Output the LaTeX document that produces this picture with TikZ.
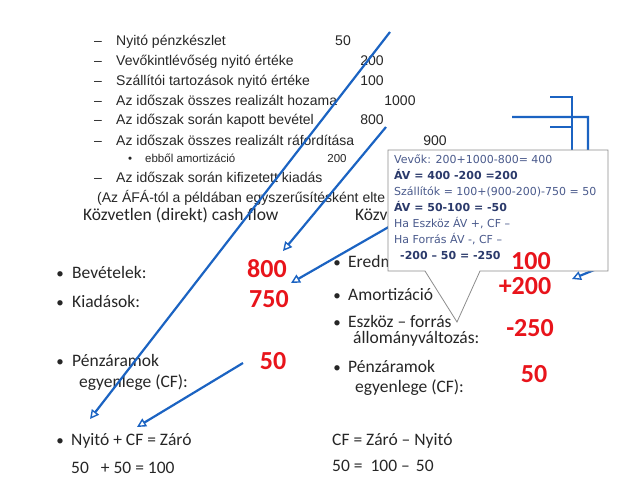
\documentclass[tikz,border=0pt]{standalone}
\usepackage{fontspec}
\setmainfont{Carlito}
\newfontfamily\arialf{Liberation Sans}
\newfontfamily\callf{DejaVu Sans}
\usetikzlibrary{arrows.meta}
\definecolor{ink}{HTML}{262626}
\definecolor{redn}{HTML}{E8141B}
\definecolor{blueln}{HTML}{1B63C2}
\definecolor{calln}{HTML}{4A5A8C}
\definecolor{callb}{HTML}{2B3A6B}
\definecolor{boxgray}{HTML}{8C8C8C}
\begin{document}
\begin{tikzpicture}[x=1pt,y=-1pt,
  toptxt/.style={anchor=base west, font=\arialf\fontsize{14}{16}\selectfont, text=ink, inner sep=0},
  topnum/.style={anchor=base, font=\arialf\fontsize{14}{16}\selectfont, text=ink, inner sep=0},
  smalltxt/.style={anchor=base west, font=\arialf\fontsize{11.5}{13}\selectfont, text=ink, inner sep=0},
  smallnum/.style={anchor=base, font=\arialf\fontsize{11.5}{13}\selectfont, text=ink, inner sep=0},
  headtxt/.style={anchor=base west, font=\fontsize{17.5}{20}\selectfont, text=ink, inner sep=0},
  bodytxt/.style={anchor=base west, font=\fontsize{17.5}{20}\selectfont, text=ink, inner sep=0},
  bodybul/.style={anchor=base, font=\fontsize{15}{18}\selectfont, text=ink, inner sep=0},
  rednum/.style={anchor=base, font=\bfseries\fontsize{26}{30}\selectfont, text=redn, inner sep=0},
  calltxt/.style={anchor=base west, font=\callf\fontsize{11}{12}\selectfont, text=calln, inner sep=0},
  callbold/.style={anchor=base west, font=\callf\bfseries\fontsize{11}{12}\selectfont, text=callb, inner sep=0},
  link/.style={draw=blueln, line width=2.2pt, -{Triangle[open,length=9pt,width=9pt,line width=1.4pt]}},
  bracket/.style={draw=blueln, line width=2.2pt},
  callout/.style={draw=boxgray, fill=white, line width=0.8pt}
]
\useasboundingbox (0,0) rectangle (640,480);

% ---- top list ----
\node[toptxt] (d1) at (94,45) {–};
\node[toptxt] (t1) at (116,45) {Nyitó pénzkészlet};
\node[topnum] (n1) at (343,45) {50};
\node[toptxt] (d2) at (94,65) {–};
\node[toptxt] (t2) at (116,65) {Vevőkintlévőség nyitó értéke};
\node[topnum] (n2) at (372,65) {200};
\node[toptxt] (d3) at (94,85) {–};
\node[toptxt] (t3) at (116,85) {Szállítói tartozások nyitó értéke};
\node[topnum] (n3) at (372,85) {100};
\node[toptxt] (d4) at (94,105) {–};
\node[toptxt] (t4) at (116,105) {Az időszak összes realizált hozama};
\node[topnum] (n4) at (400,105) {1000};
\node[toptxt] (d5) at (94,124) {–};
\node[toptxt] (t5) at (116,124) {Az időszak során kapott bevétel};
\node[topnum] (n5) at (372,124) {800};
\node[toptxt] (d6) at (94,145) {–};
\node[toptxt] (t6) at (116,145) {Az időszak összes realizált ráfordítása};
\node[topnum] (n6) at (435,145) {900};
\node[smalltxt] (b7) at (128,162) {•};
\node[smalltxt] (t7) at (145,162) {ebből amortizáció};
\node[smallnum] (n7) at (337,162) {200};
\node[toptxt] (d8) at (94,182) {–};
\node[toptxt] (t8) at (116,182) {Az időszak során kifizetett kiadás};
\node[toptxt] (t9) at (97,202) {(Az ÁFÁ-tól a példában egyszerűsítésként elte};

% ---- headings ----
\node[headtxt] (h1) at (83,220) {Közvetlen (direkt) cash flow};
\node[headtxt] (h2) at (355,220) {Közve};

% ---- left column ----
\node[bodybul] (lb1) at (60,278) {•};
\node[bodytxt] (l1) at (72,278) {Bevételek:};
\node[bodybul] (lb2) at (60,307) {•};
\node[bodytxt] (l2) at (72,307) {Kiadások:};
\node[bodybul] (lb3) at (60,366) {•};
\node[bodytxt] (l3) at (72,366) {Pénzáramok};
\node[bodytxt] (l3b) at (79,387) {egyenlege (CF):};
\node[bodybul] (lb4) at (60,445) {•};
\node[bodytxt] (l4) at (71,445) {Nyitó + CF = Záró};
\node[bodytxt] (l5) at (71,473) {50\hspace{12pt}+ 50 = 100};

% ---- right column ----
\node[bodybul] (rb1) at (337,267) {•};
\node[bodytxt] (r1) at (348,267) {Eredmény};
\node[bodybul] (rb2) at (337,300) {•};
\node[bodytxt] (r2) at (348,300) {Amortizáció};
\node[bodybul] (rb3) at (337,327) {•};
\node[bodytxt] (r3) at (348,327) {Eszköz – forrás};
\node[bodytxt] (r3b) at (353,343) {állományváltozás:};
\node[bodybul] (rb4) at (337,372) {•};
\node[bodytxt] (r4) at (348,372) {Pénzáramok};
\node[bodytxt] (r4b) at (355,392) {egyenlege (CF):};
\node[bodytxt] (r5) at (332,445) {CF = Záró – Nyitó};
\node[bodytxt] (r6) at (332,471) {50 =\hspace{8pt}100 –\hspace{6pt}50};

% ---- connectors ----
\coordinate (s1) at (390,32);   \coordinate (e1) at (90,419);
\coordinate (s2) at (386,127);  \coordinate (e2) at (283,251);
\coordinate (s3) at (420,209);  \coordinate (e3) at (291,283);
\coordinate (s4) at (243,363);  \coordinate (e4) at (137,427);
\draw[link] (s1) -- (e1);
\draw[link] (s2) -- (e2);
\draw[link] (s3) -- (e3);
\draw[link] (s4) -- (e4);

\coordinate (ba) at (550,97);  \coordinate (bb) at (572,97); \coordinate (bc) at (572,170);
\coordinate (bd) at (550,127); \coordinate (be) at (572,127);
\coordinate (bf) at (512,117); \coordinate (bg) at (588,117); \coordinate (bh) at (588,200);
\coordinate (bi) at (604,266); \coordinate (bj) at (572,279);
\draw[bracket] (ba) -- (bb) -- (bc);
\draw[bracket] (bd) -- (be);
\draw[link] (bf) -- (bg) -- (bh) -- (bi) -- (bj);

% ---- callout ----
\draw[callout] (388,150) -- (608,150) -- (608,271) -- (480,271) -- (457,322) -- (425,271) -- (388,271) -- cycle;
\node[calltxt] (c1) at (394,163) {Vevők: 200+1000-800= 400};
\node[callbold] (c2) at (394,179) {ÁV = 400 -200 =200};
\node[calltxt] (c3) at (394,195) {Szállítók = 100+(900-200)-750 = 50};
\node[callbold] (c4) at (394,211) {ÁV = 50-100 = -50};
\node[calltxt] (c5) at (394,227) {Ha Eszköz ÁV +, CF –};
\node[calltxt] (c6) at (394,243) {Ha Forrás ÁV -, CF –};
\node[callbold] (c7) at (400,259) {-200 – 50 = -250};

% ---- red numbers ----
\node[rednum] (v1) at (267,277) {800};
\node[rednum] (v2) at (269,307) {750};
\node[rednum] (v3) at (273,369) {50};
\node[rednum] (v4) at (531,269) {100};
\node[rednum] (v5) at (525,294) {+200};
\node[rednum] (v6) at (530,336) {-250};
\node[rednum] (v7) at (534,382) {50};
\end{tikzpicture}
\end{document}
